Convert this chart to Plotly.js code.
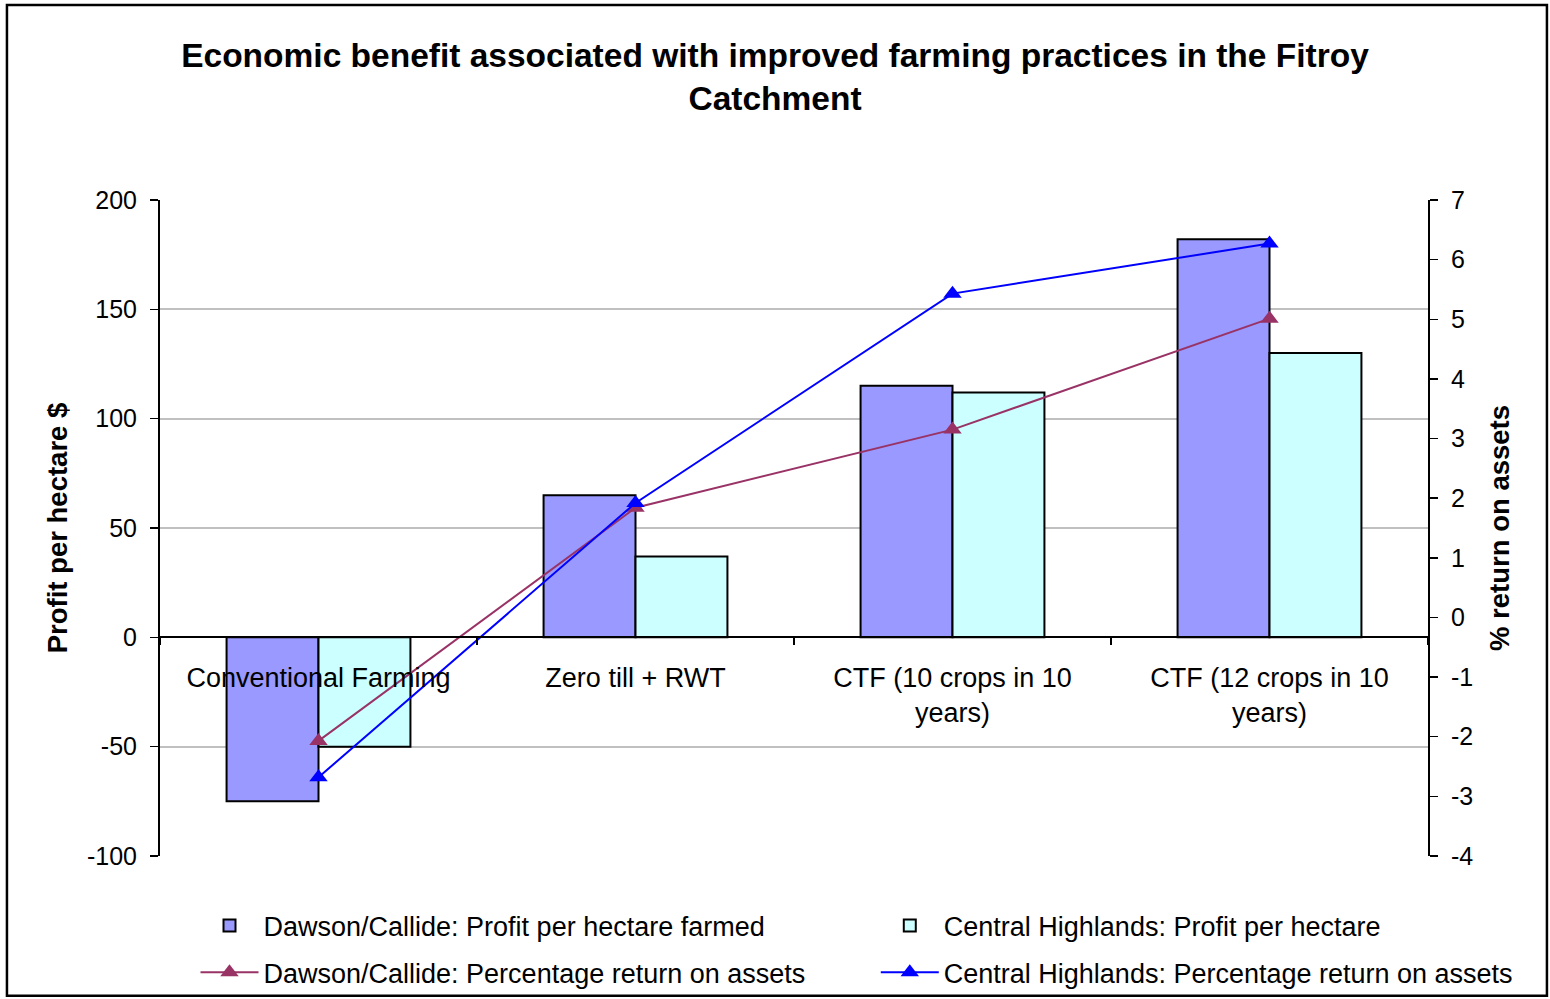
<!DOCTYPE html>
<html>
<head>
<meta charset="utf-8">
<script src="https://cdn.plot.ly/plotly-3.0.1.min.js"></script>
<style>html,body{margin:0;padding:0;background:#fff;}#chart{width:1550px;height:999px;}</style>
</head>
<body>
<div id="chart"></div>
<script>
const categories = ["Conventional Farming", "Zero till + RWT", "CTF (10 crops in 10<br>years)", "CTF (12 crops in 10<br>years)"];
const dawsonProfit = [-75, 65, 115, 182];
const centralProfit = [-50, 37, 112, 130];
const dawsonReturn = [-2.07, 1.84, 3.15, 5.01];
const centralReturn = [-2.68, 1.92, 5.43, 6.27];
const leftTicks = [-100, -50, 0, 50, 100, 150, 200];
const leftTickText = ["-100", "-50", "0", "50", "100", "150", "200"];
const rightTicks = [-4, -3, -2, -1, 0, 1, 2, 3, 4, 5, 6, 7];
const rightTickText = ["-4", "-3", "-2", "-1", "0", "1", "2", "3", "4", "5", "6", "7"];

const FONT = "Liberation Sans, Arial, sans-serif";

const traces = [
  {type: 'bar', name: 'Dawson/Callide: Profit per hectare farmed', x: categories, y: dawsonProfit, showlegend: true,
   marker: {color: '#9999FF', line: {color: '#000000', width: 2}}, legend: 'legend'},
  {type: 'bar', name: 'Central Highlands: Profit per hectare', x: categories, y: centralProfit, showlegend: true,
   marker: {color: '#CCFFFF', line: {color: '#000000', width: 2}}, legend: 'legend2'},
  {type: 'scatter', mode: 'lines+markers', name: 'Dawson/Callide: Percentage return on assets', x: categories, y: dawsonReturn, yaxis: 'y2', showlegend: true,
   line: {color: '#993366', width: 2}, marker: {symbol: 'triangle-up', size: 16, color: '#993366'}, legend: 'legend3'},
  {type: 'scatter', mode: 'lines+markers', name: 'Central Highlands: Percentage return on assets', x: categories, y: centralReturn, yaxis: 'y2', showlegend: true,
   line: {color: '#0000FF', width: 2}, marker: {symbol: 'triangle-up', size: 16, color: '#0000FF'}, legend: 'legend4'}
];

function leg(x, y) {
  return {orientation: 'h', x: x, xanchor: 'left', y: y, yanchor: 'middle',
          itemwidth: 58, font: {size: 27}, bgcolor: 'rgba(0,0,0,0)'};
}

const layout = {
  width: 1550, height: 999,
  showlegend: true,
  margin: {l: 160, r: 122, t: 200, b: 143, autoexpand: false},
  paper_bgcolor: '#ffffff', plot_bgcolor: '#ffffff',
  font: {family: FONT, size: 25, color: '#000'},
  barmode: 'group', bargap: 0.42, bargroupgap: 0,
  title: {text: 'Economic benefit associated with improved farming practices in the Fitroy<br>Catchment',
          font: {family: FONT, size: 33.5, color: '#000', weight: 'bold'},
          x: 0.5, xanchor: 'center', yref: 'container', y: 0.933, yanchor: 'top'},
  xaxis: {type: 'category', anchor: 'free', position: 1/3, showline: true, linecolor: '#000', linewidth: 2,
          ticks: 'outside', tickson: 'boundaries', ticklen: 7, tickcolor: '#000', tickwidth: 1.5,
          ticklabelstandoff: 16, showgrid: false, zeroline: false, tickfont: {size: 27}},
  yaxis: {range: [-100, 200], tickvals: leftTicks, ticktext: leftTickText, showline: true, linecolor: '#000', linewidth: 2,
          ticks: 'outside', ticklen: 8, tickcolor: '#000', tickwidth: 1.5, ticklabelstandoff: 8,
          showgrid: true, gridcolor: '#C0C0C0', gridwidth: 2, zeroline: false,
          tickfont: {size: 25},
          title: {text: 'Profit per hectare $', font: {size: 27.5, weight: 'bold'}, standoff: 11}},
  yaxis2: {range: [-4, 7], tickvals: rightTicks, ticktext: rightTickText, overlaying: 'y', side: 'right', showline: true, linecolor: '#000', linewidth: 2,
           ticks: 'outside', ticklen: 8, tickcolor: '#000', tickwidth: 1.5, ticklabelstandoff: 8, showgrid: false, zeroline: false,
           tickfont: {size: 25},
           title: {text: '% return on assets', font: {size: 27.5, weight: 'bold'}, standoff: 17}},
  legend: leg(0.028, -0.1067),
  legend2: leg(0.5645, -0.1067),
  legend3: leg(0.028, -0.178),
  legend4: leg(0.5645, -0.178),
  shapes: [
    {type: 'rect', xref: 'paper', yref: 'paper', x0: -0.1207, x1: 1.0938, y0: -0.213, y1: 1.2973,
     line: {color: '#000', width: 2.5}, fillcolor: 'rgba(0,0,0,0)', layer: 'below'}
  ]
};

Plotly.newPlot('chart', traces, layout, {staticPlot: true, displayModeBar: false});
</script>
</body>
</html>
